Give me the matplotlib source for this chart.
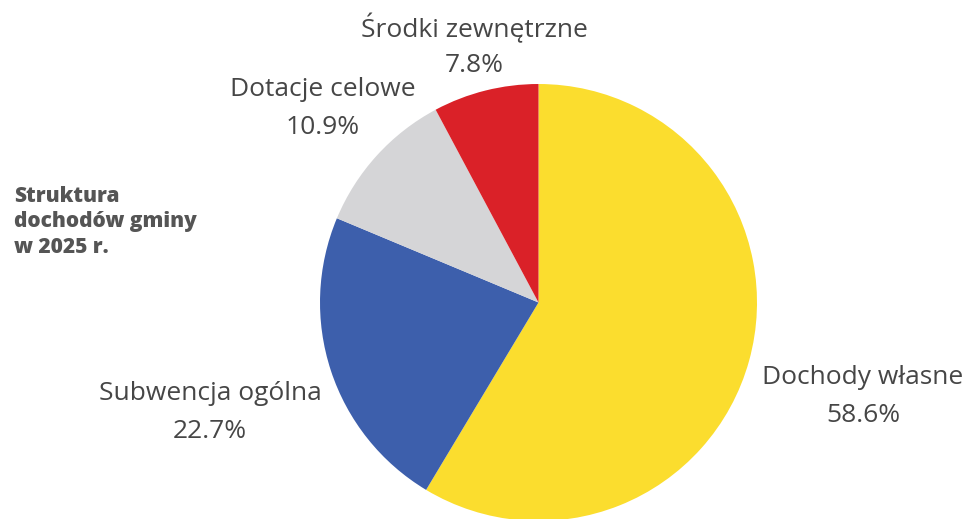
import matplotlib.pyplot as plt
import numpy as np

labels = ['Dochody własne', 'Subwencja ogólna', 'Dotacje celowe', 'Środki zewnętrzne']
shares = [58.6, 22.7, 10.9, 7.8]
colors = ['#FBDD2E', '#3D5FAC', '#D5D5D7', '#DA2128']

# label anchor points (pixels from top-left)
label_pos = [(863, 378), (210, 394), (323, 90), (474, 28)]

W, H = 967, 519
fig = plt.figure(figsize=(W / 100, H / 100), dpi=100)
ax = fig.add_axes([0, 0, 1, 1])

cx, cy, r = 538.5, H - 302.5, 218.5
ax.pie(shares, colors=colors, startangle=90, counterclock=False,
       center=(cx, cy), radius=r, frame=True,
       wedgeprops=dict(linewidth=0))
ax.set_xlim(0, W)
ax.set_ylim(0, H)
ax.set_aspect('equal')
ax.axis('off')

for lab, val, (px, py) in zip(labels, shares, label_pos):
    ax.text(px, H - py, lab, ha='center', va='center', fontsize=19,
            family='Open Sans', color='#464646')
    ax.text(px, H - py - 37, f'{val:.1f}%', ha='center', va='center', fontsize=19,
            family='Open Sans', color='#464646')

ax.text(14, H - 186, 'Struktura\ndochodów gminy\nw 2025 r.', ha='left', va='top',
        fontsize=15, family='Open Sans', fontweight='heavy', color='#555555',
        linespacing=1.28)

fig.savefig('out.png', dpi=100)
